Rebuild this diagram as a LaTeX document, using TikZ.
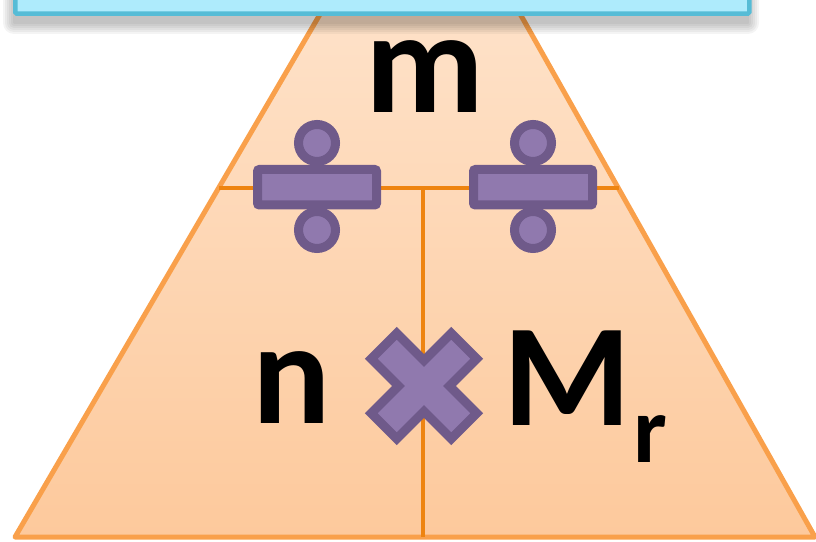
\documentclass[tikz,border=0pt]{standalone}
\usepackage{fontspec}
\setmainfont{Carlito}
\usetikzlibrary{calc}
\definecolor{boxfill}{HTML}{AEEBFC}
\definecolor{boxline}{HTML}{56BCD6}
\definecolor{trapline}{HTML}{F9A04B}
\definecolor{midline}{HTML}{EE8410}
\definecolor{toporange}{HTML}{FEE3CB}
\definecolor{botorange}{HTML}{FDC99C}
\definecolor{symfill}{HTML}{9079AE}
\definecolor{symline}{HTML}{6F5A8A}
\tikzset{
  symbol/.style={fill=symfill,draw=symline,line width=9pt,line join=miter},
  bigtext/.style={font=\fontsize{146}{146}\selectfont\bfseries,inner sep=0pt,anchor=base},
  subtext/.style={font=\fontsize{95}{95}\selectfont\bfseries,inner sep=0pt,anchor=base west},
  divider/.style={draw=midline,line width=4.5pt}
}
\begin{document}
\begin{tikzpicture}[x=1pt,y=1pt]
\useasboundingbox (0,0) rectangle (816,541);
\clip (0,0) rectangle (816,541);
% trapezoid
\coordinate (TL) at (340,561);
\coordinate (TR) at (501,561);
\coordinate (BL) at (15,4);
\coordinate (BR) at (815,4);
\coordinate (HL) at (219,353);
\coordinate (HR) at (619,353);
\coordinate (VT) at (423,353);
\coordinate (VB) at (423,4);
\path[top color=toporange,bottom color=botorange,draw=trapline,line width=5pt,line join=round]
  (TL) -- (TR) -- (BR) -- (BL) -- cycle;
\draw[divider] (HL) -- (HR);
\draw[divider] (VT) -- (VB);
% soft shadow of the top box
\foreach \d in {1,3,5,7,9,11}{
  \fill[black,opacity=0.045,rounded corners=\d pt] ($(13,518)+(-\d+1,-\d)$) rectangle ($(749,620)+(\d-1,0)$);
}
% top box
\node[draw=boxline,fill=boxfill,line width=4.5pt,rounded corners=1.5pt,minimum width=734pt,minimum height=80pt,anchor=south west] (box) at (13,525) {};
% division symbols
\foreach \cx/\nm in {317/divL,533/divR}{
  \draw[symbol] (\cx,398) circle (18.5);
  \draw[symbol] (\cx,311) circle (18.5);
  \draw[symbol,rounded corners=2pt] ($(\cx,0)+(-59.5,336)$) rectangle ($(\cx,0)+(59.5,371.5)$);
  \coordinate (\nm) at (\cx,353);
}
% cross
\begin{scope}[shift={(424,155)},rotate=45]
\draw[symbol] (56.5,18) -- (18,18) -- (18,56.5) -- (-18,56.5) -- (-18,18) -- (-56.5,18)
  -- (-56.5,-18) -- (-18,-18) -- (-18,-56.5) -- (18,-56.5) -- (18,-18) -- (56.5,-18) -- cycle;
\end{scope}
% texts
\node[bigtext] (m) at (425,428) {m};
\node[bigtext] (n) at (292,118) {n};
\node[bigtext,anchor=base west] (M) at (503,116) {M};
\node[subtext] (r) at (M.base east) [xshift=2pt,yshift=-37pt] {r};
\end{tikzpicture}
\end{document}
